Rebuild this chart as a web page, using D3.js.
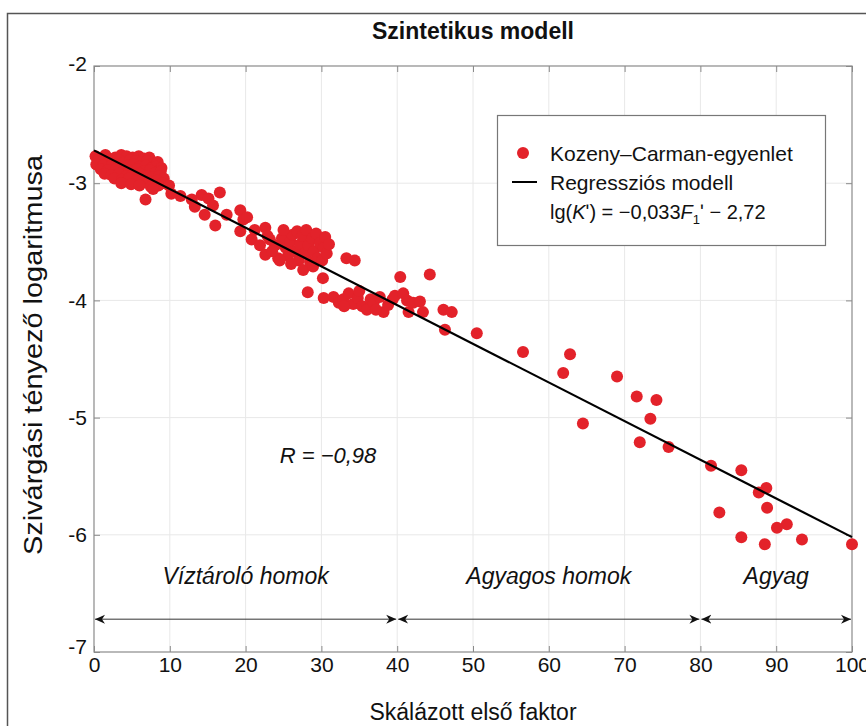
<!DOCTYPE html>
<html>
<head>
<meta charset="utf-8">
<script src="https://cdn.jsdelivr.net/npm/d3@7"></script>
<style>
	body { margin: 0; background: #fff; }
	text { font-family: "Liberation Sans", Arial, sans-serif; fill: #111; }
</style>
</head>
<body>
<svg id="chart" width="866" height="726"></svg>
<script>
//Kozeny-Carman points: [skálázott első faktor, lg(K)]
var sandCluster = [
	[0.2,-2.77],[1.5,-2.76],[2.8,-2.78],[3.6,-2.76],[4.3,-2.77],[5.1,-2.78],[5.9,-2.77],[6.6,-2.79],[7.3,-2.78],
	[0.6,-2.80],[2.1,-2.81],[3.2,-2.80],[4.0,-2.82],[4.8,-2.80],[5.5,-2.81],[6.3,-2.82],[7.0,-2.81],[7.8,-2.83],[8.4,-2.82],
	[0.3,-2.84],[1.2,-2.85],[2.4,-2.84],[3.4,-2.86],[4.5,-2.85],[5.2,-2.84],[6.0,-2.86],[6.9,-2.85],[7.6,-2.87],[8.2,-2.86],[8.9,-2.87],
	[0.9,-2.88],[1.8,-2.89],[2.9,-2.88],[3.9,-2.90],[4.7,-2.89],[5.7,-2.88],[6.5,-2.90],[7.4,-2.89],[8.1,-2.91],[8.8,-2.90],
	[1.4,-2.92],[2.3,-2.93],[3.3,-2.92],[4.2,-2.94],[5.0,-2.93],[6.1,-2.92],[7.0,-2.94],[7.8,-2.95],[8.6,-2.94],[9.2,-2.96],
	[2.7,-2.96],[3.7,-2.97],[4.6,-2.96],[5.6,-2.98],[6.4,-2.97],[7.3,-2.99],[8.3,-2.98],[9.0,-3.00],
	[3.6,-3.00],[4.9,-3.01],[6.0,-3.02],[7.5,-3.03],[8.5,-3.02],
	[6.8,-3.14],[7.8,-3.05],[9.9,-3.02],[10.2,-3.09]
];
var transitionPoints = [
	[11.4,-3.11],[12.9,-3.14],[13.3,-3.20],[14.2,-3.10],[15.1,-3.13],[16.6,-3.08],[14.6,-3.27],[15.7,-3.19],[16.0,-3.36],
	[17.5,-3.27],[19.3,-3.23],[19.7,-3.31],[19.3,-3.41],[20.2,-3.29],[22.6,-3.38],[20.8,-3.48],[21.9,-3.53],[22.6,-3.61],
	[23.9,-3.53],[24.3,-3.64],[22.9,-3.45],[21.2,-3.40],[23.5,-3.58]
];
var upperCluster = [
	[24.8,-3.47],[25.3,-3.55],[25.6,-3.62],[25.9,-3.50],[26.2,-3.44],[26.5,-3.58],[26.8,-3.41],[27.0,-3.66],[27.2,-3.52],
	[27.5,-3.45],[27.8,-3.60],[27.6,-3.74],[28.0,-3.40],[28.3,-3.53],[28.5,-3.67],[28.8,-3.47],[29.0,-3.58],[29.3,-3.43],
	[29.5,-3.64],[29.8,-3.51],[30.1,-3.66],[30.3,-3.55],[30.5,-3.46],[30.7,-3.60],[26.0,-3.69],[24.5,-3.66],[23.2,-3.48],
	[25.0,-3.40],[28.9,-3.71],[31.0,-3.52],[30.2,-3.81],[33.3,-3.64],[34.4,-3.66]
];
var lowerCluster = [
	[28.2,-3.93],[30.3,-3.98],[31.6,-3.97],[32.3,-4.02],[32.9,-3.99],[33.6,-3.94],[34.2,-4.03],[34.8,-3.98],[35.4,-4.05],
	[36.0,-4.08],[36.5,-3.99],[36.9,-4.02],[37.7,-3.97],[38.2,-4.10],[38.8,-4.04],[39.4,-3.99],[39.7,-3.96],[40.4,-3.80],
	[40.8,-3.94],[41.3,-4.00],[41.5,-4.10],[42.1,-4.02],[43.0,-4.01],[43.4,-4.10],[44.3,-3.78],[35.0,-3.92],[33.0,-4.05],[37.2,-4.08]
];
var clayPoints = [
	[46.1,-4.08],[47.2,-4.10],[46.3,-4.25],[50.5,-4.28],[56.6,-4.44],[62.8,-4.46],[61.9,-4.62],[69.0,-4.65],[64.5,-5.05],
	[71.6,-4.82],[74.2,-4.85],[73.4,-5.01],[72.0,-5.21],[75.8,-5.25],[81.4,-5.41],[85.4,-5.45],[88.7,-5.60],[87.7,-5.64],
	[88.8,-5.77],[82.5,-5.81],[91.4,-5.91],[90.1,-5.94],[85.4,-6.02],[93.4,-6.04],[88.5,-6.08],[100,-6.08]
];

//Regression model lg(K) = slope*F + intercept
var regSlope = -0.033;
var regIntercept = -2.72;
var regDomain = [0, 100];

//Tick values
var xTicks = [0,10,20,30,40,50,60,70,80,90,100];
var yTicks = [-2,-3,-4,-5,-6,-7];

//Lithology regions along the bottom
var regionNames = ["Víztároló homok", "Agyagos homok", "Agyag"];
var regionStart = [0, 40, 80];
var regionEnd = [40, 80, 100];
var regionArrowY = -6.72;
var regionLabelY = -6.42;

var correlationText = "R = −0,98";
var correlationPos = [24.5, -5.39];

var width = 866, height = 726;
var plotLeft = 94, plotRight = 852, plotTop = 66, plotBottom = 652;
var red = "#e3222a";

var svg = d3.select("#chart");

var x = d3.scaleLinear().domain([0, 100]).range([plotLeft, plotRight]);
var y = d3.scaleLinear().domain([-7, -2]).range([plotBottom, plotTop]);

//Outer frame
svg.append("rect")
	.attr("x", 7.5).attr("y", 13.5)
	.attr("width", 900).attr("height", 800)
	.attr("fill", "none")
	.attr("stroke", "#555")
	.attr("stroke-width", 1.5);

//Grid
var grid = svg.append("g").attr("stroke", "#e8e8e8").attr("stroke-width", 1);
grid.selectAll("line.gx")
	.data(xTicks.slice(1, -1))
	.enter().append("line")
	.attr("x1", function(d){ return x(d); }).attr("x2", function(d){ return x(d); })
	.attr("y1", plotTop).attr("y2", plotBottom);
grid.selectAll("line.gy")
	.data(yTicks.slice(1, -1))
	.enter().append("line")
	.attr("y1", function(d){ return y(d); }).attr("y2", function(d){ return y(d); })
	.attr("x1", plotLeft).attr("x2", plotRight);

//Axes
function styleAxis(g){
	g.select(".domain").remove();
	g.selectAll(".tick line").attr("stroke", "#8a8a8a");
	g.selectAll(".tick text").attr("font-size", "21px").attr("fill", "#111");
}
var plainNumber = function(d){ return String(d); };
svg.append("g")
	.attr("transform", "translate(0," + plotBottom + ")")
	.call(d3.axisBottom(x).tickValues(xTicks).tickSizeInner(-6).tickSizeOuter(0).tickPadding(5).tickFormat(plainNumber))
	.call(styleAxis);
svg.append("g")
	.attr("transform", "translate(0," + plotTop + ")")
	.call(d3.axisTop(x).tickValues(xTicks).tickSizeInner(-6).tickSizeOuter(0).tickFormat(""))
	.call(styleAxis);
var yAxisG = svg.append("g")
	.attr("transform", "translate(" + plotLeft + ",0)")
	.call(d3.axisLeft(y).tickValues(yTicks).tickSizeInner(-6).tickSizeOuter(0).tickPadding(7).tickFormat(plainNumber))
	.call(styleAxis);
yAxisG.selectAll(".tick text").filter(function(d){ return d === -7; }).attr("dy", "0.05em");
yAxisG.selectAll(".tick text").filter(function(d){ return d === -2; }).attr("dy", "0.2em");
svg.append("g")
	.attr("transform", "translate(" + plotRight + ",0)")
	.call(d3.axisRight(y).tickValues(yTicks).tickSizeInner(-6).tickSizeOuter(0).tickFormat(""))
	.call(styleAxis);

svg.append("rect")
	.attr("x", plotLeft).attr("y", plotTop)
	.attr("width", plotRight - plotLeft).attr("height", plotBottom - plotTop)
	.attr("fill", "none")
	.attr("stroke", "#8a8a8a")
	.attr("stroke-width", 1.2);

//Points
var allPoints = sandCluster.concat(transitionPoints, upperCluster, lowerCluster, clayPoints);
svg.append("g")
	.selectAll("circle")
	.data(allPoints)
	.enter().append("circle")
	.attr("cx", function(d){ return x(d[0]); })
	.attr("cy", function(d){ return y(d[1]); })
	.attr("r", 6)
	.attr("fill", red);

//Regression line
svg.append("line")
	.attr("x1", x(regDomain[0])).attr("y1", y(regSlope * regDomain[0] + regIntercept))
	.attr("x2", x(regDomain[1])).attr("y2", y(regSlope * regDomain[1] + regIntercept))
	.attr("stroke", "#000")
	.attr("stroke-width", 2.2);

//Arrow markers
var defs = svg.append("defs");
defs.append("marker")
	.attr("id", "arrowEnd")
	.attr("viewBox", "0 -5 10 10")
	.attr("refX", 10).attr("refY", 0)
	.attr("markerWidth", 10).attr("markerHeight", 10)
	.attr("markerUnits", "userSpaceOnUse")
	.attr("orient", "auto")
	.append("path")
	.attr("d", "M0,-4.5L10,0L0,4.5L3,0Z")
	.attr("fill", "#111");
defs.append("marker")
	.attr("id", "arrowStart")
	.attr("viewBox", "0 -5 10 10")
	.attr("refX", 0).attr("refY", 0)
	.attr("markerWidth", 10).attr("markerHeight", 10)
	.attr("markerUnits", "userSpaceOnUse")
	.attr("orient", "auto")
	.append("path")
	.attr("d", "M10,-4.5L0,0L10,4.5L7,0Z")
	.attr("fill", "#111");

var regions = svg.append("g");
regionNames.forEach(function(name, i){
	regions.append("line")
		.attr("x1", x(regionStart[i]) + 1).attr("x2", x(regionEnd[i]) - 1)
		.attr("y1", y(regionArrowY)).attr("y2", y(regionArrowY))
		.attr("stroke", "#333")
		.attr("stroke-width", 1)
		.attr("marker-start", "url(#arrowStart)")
		.attr("marker-end", "url(#arrowEnd)");
	regions.append("text")
		.attr("x", x((regionStart[i] + regionEnd[i]) / 2))
		.attr("y", y(regionLabelY))
		.attr("text-anchor", "middle")
		.attr("font-size", "23px")
		.attr("font-style", "italic")
		.text(name);
});

//Correlation
svg.append("text")
	.attr("x", x(correlationPos[0]))
	.attr("y", y(correlationPos[1]))
	.attr("font-size", "22px")
	.attr("font-style", "italic")
	.text(correlationText);

//Legend
var legend = svg.append("g");
legend.append("rect")
	.attr("x", 497.5).attr("y", 115.5)
	.attr("width", 328).attr("height", 130)
	.attr("fill", "#fff")
	.attr("stroke", "#777")
	.attr("stroke-width", 1.2);
legend.append("circle")
	.attr("cx", 523).attr("cy", 153).attr("r", 6)
	.attr("fill", red);
legend.append("text")
	.attr("x", 550).attr("y", 161)
	.attr("font-size", "21px")
	.text("Kozeny–Carman-egyenlet");
legend.append("line")
	.attr("x1", 512).attr("x2", 537)
	.attr("y1", 182).attr("y2", 182)
	.attr("stroke", "#000").attr("stroke-width", 2);
legend.append("text")
	.attr("x", 550).attr("y", 190)
	.attr("font-size", "21px")
	.text("Regressziós modell");
var eq = legend.append("text")
	.attr("x", 550).attr("y", 219)
	.attr("font-size", "20px");
eq.append("tspan").text("lg(");
eq.append("tspan").attr("font-style", "italic").text("K");
eq.append("tspan").text("ʹ) = −0,033");
eq.append("tspan").attr("font-style", "italic").text("F");
eq.append("tspan").attr("font-size", "13px").attr("dy", 5).text("1");
eq.append("tspan").attr("dy", -5).text("ʹ");
eq.append("tspan").text(" − 2,72");

//Title and axis titles
svg.append("text")
	.attr("x", 473).attr("y", 39)
	.attr("text-anchor", "middle")
	.attr("font-size", "23px")
	.attr("font-weight", "bold")
	.text("Szintetikus modell");
svg.append("text")
	.attr("x", 473).attr("y", 720)
	.attr("text-anchor", "middle")
	.attr("font-size", "23px")
	.text("Skálázott első faktor");
svg.append("text")
	.attr("transform", "translate(42,355) rotate(-90)")
	.attr("text-anchor", "middle")
	.attr("font-size", "25px")
	.attr("textLength", 400)
	.attr("lengthAdjust", "spacingAndGlyphs")
	.text("Szivárgási tényező logaritmusa");
</script>
</body>
</html>
